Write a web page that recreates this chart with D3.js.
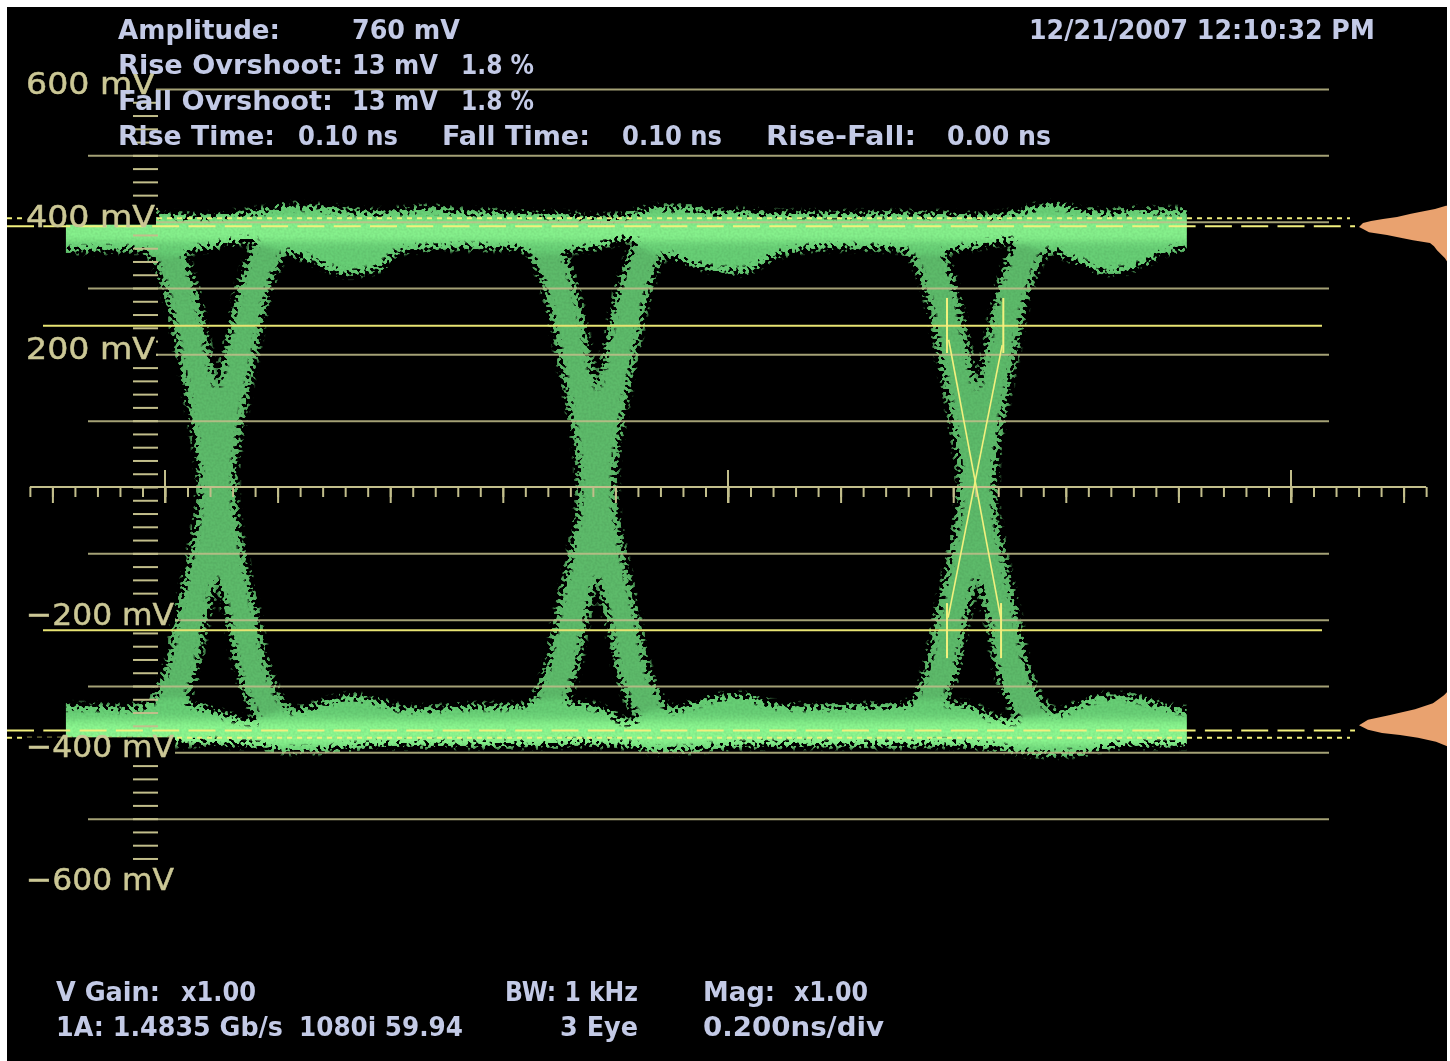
<!DOCTYPE html>
<html lang="en">
<head>
  <meta charset="UTF-8">
  <title>3 Eye display</title>
  <style>
    html, body { margin: 0; padding: 0; background: #fff; }
    svg { display: block; }
    .readout { font-family: "DejaVu Sans", sans-serif; font-weight: bold; font-size: 27px; fill: #c3cae6; }
    .mvlabel { font-family: "DejaVu Sans", sans-serif; font-size: 31px; fill: #cbc795; stroke: #cbc795; stroke-width: 0.5px; }
  </style>
</head>
<body>
  <svg id="scope" width="1450" height="1061"></svg>

  <script src="https://d3js.org/d3.v7.min.js"></script>
  <script>
    // trace envelopes, ns and mV
    const railTimes = [-0.215, -0.125, -0.075, -0.025, 0.025, 0.075, 0.125, 0.175, 0.225, 0.275,
      0.325, 0.375, 0.425, 0.475, 0.525, 0.575, 0.625, 0.675, 0.725, 0.775,
      0.825, 0.875, 0.925, 0.975, 1.025, 1.075, 1.125, 1.175, 1.225, 1.275,
      1.325, 1.375, 1.425, 1.475, 1.525, 1.575, 1.625, 1.675, 1.725, 1.775, 1.855];
    const topRailUpper = [409, 412, 412, 412, 410, 409, 413, 418, 425, 422, 418, 415, 418, 421, 416, 415, 413, 412, 410, 407,
      412, 422, 422, 415, 416, 413, 413, 413, 412, 413, 413, 412, 410, 410, 418, 427, 418, 415, 418, 418, 418];
    const topRailLower = [354, 356, 357, 357, 354, 360, 369, 372, 353, 335, 320, 327, 357, 359, 360, 360, 359, 357, 357, 363,
      375, 357, 339, 327, 323, 345, 357, 360, 360, 359, 357, 356, 360, 368, 372, 357, 338, 323, 330, 353, 363];
    const bottomRailUpper = [-329, -330, -332, -327, -324, -333, -348, -354, -339, -327, -315, -321, -333, -333, -330, -329, -329, -327, -324, -333,
      -354, -342, -330, -317, -314, -326, -330, -330, -329, -329, -329, -326, -327, -348, -353, -345, -326, -314, -317, -330, -338];
    const bottomRailLower = [-386, -386, -386, -386, -384, -384, -387, -392, -399, -398, -393, -390, -389, -389, -389, -389, -389, -389, -386, -387,
      -390, -399, -398, -393, -390, -389, -389, -389, -389, -389, -389, -387, -389, -393, -401, -404, -402, -392, -389, -389, -389];

    // one transition: mV against time from the crossing
    const crossings = [0.0924, 0.7673, 1.4423];
    const strandMv = [384, 357, 342, 300, 200, 100, 0, -100, -200, -300, -340, -365];
    const strandDt = [-0.125, -0.092, -0.083, -0.066, -0.041, -0.018, 0, 0.02, 0.046, 0.073, 0.098, 0.13];
    const waistMv = [60, -60];
    const traceStart = -0.176;
    const traceEnd = 1.815;
    const topCoreBand = [396, 378];
    const bottomCoreBand = [-358, -384];

    // graticule
    const gridMv = [600, 500, 400, 300, 200, 100, -100, -200, -300, -400, -500];
    const scaleLabelsMv = [600, 400, 200, -200, -400, -600];

    // measurement cursors
    const dashedMv = [393, -367];
    const dottedMv = [405, -378];
    const solidMv = [243, -216];
    const cursorBars = [
      { t: 1.389, from: 285, to: 202 }, { t: 1.489, from: 285, to: 202 },
      { t: 1.389, from: -175, to: -258 }, { t: 1.485, from: -175, to: -258 }
    ];
    const cursorSlants = [
      { t0: 1.392, v0: 222, t1: 1.485, v1: -200 },
      { t0: 1.487, v0: 214, t1: 1.391, v1: -197 }
    ];

    // histograms at the right edge, mV and counts
    const histTopMv = [424, 419, 415, 412, 407, 404, 401, 398, 392, 389, 384, 380, 375, 372, 368, 363, 357, 351, 345, 335, 317];
    const histTopCount = [87, 76, 62, 52, 38, 24, 12, 4, 0, 4, 10, 28, 44, 54, 71, 75, 78, 82, 86, 90, 90];
    const histBottomMv = [-273, -306, -314, -326, -335, -344, -351, -359, -366, -371, -374, -378, -384, -392];
    const histBottomCount = [90, 90, 85, 74, 56, 30, 9, 0, 9, 23, 41, 59, 77, 90];

    const W = 1450, H = 1061;
    const svg = d3.select("#scope");

    const x = d3.scaleLinear().domain([0, 1]).range([165, 728]);
    const y = d3.scaleLinear().domain([-600, 600]).range([885, 89]);
    const histX = d3.scaleLinear().domain([0, 90]).range([1359, 1449]);

    const defs = svg.append("defs");
    defs.append("clipPath").attr("id", "frame").append("rect")
      .attr("x", 7).attr("y", 7).attr("width", 1440).attr("height", H - 7);
    defs.append("clipPath").attr("id", "traceClip").append("rect")
      .attr("x", x(traceStart)).attr("y", 0).attr("width", x(traceEnd) - x(traceStart)).attr("height", H);

    // speckled edge: blurred alpha pushed through noise, then thresholded
    const speckle = defs.append("filter").attr("id", "speckle")
      .attr("filterUnits", "userSpaceOnUse").attr("x", 0).attr("y", 0).attr("width", W).attr("height", H)
      .attr("color-interpolation-filters", "sRGB");
    speckle.append("feGaussianBlur").attr("in", "SourceGraphic").attr("stdDeviation", 4.6).attr("result", "soft");
    speckle.append("feTurbulence").attr("type", "fractalNoise").attr("baseFrequency", 0.28)
      .attr("numOctaves", 1).attr("seed", 7).attr("result", "noise");
    speckle.append("feColorMatrix").attr("in", "noise").attr("type", "matrix")
      .attr("values", "0 0 0 0 0  0 0 0 0 0  0 0 0 0 0  3.8 0 0 0 -1.4").attr("result", "noiseAlpha");
    speckle.append("feComposite").attr("in", "soft").attr("in2", "noiseAlpha").attr("operator", "arithmetic")
      .attr("k1", 0).attr("k2", 1).attr("k3", 0.75).attr("k4", -0.38).attr("result", "mixed");
    const thresh = speckle.append("feComponentTransfer").attr("in", "mixed").attr("result", "hard");
    thresh.append("feFuncA").attr("type", "linear").attr("slope", 7).attr("intercept", -3.1);
    speckle.append("feGaussianBlur").attr("in", "SourceGraphic").attr("stdDeviation", 2.5).attr("result", "fill");
    speckle.append("feMorphology").attr("in", "fill").attr("operator", "dilate").attr("radius", 4).attr("result", "fat");
    speckle.append("feComposite").attr("in", "fat").attr("in2", "hard").attr("operator", "in").attr("result", "cut");
    speckle.append("feTurbulence").attr("type", "fractalNoise").attr("baseFrequency", 0.45)
      .attr("numOctaves", 1).attr("seed", 3).attr("result", "grain");
    speckle.append("feColorMatrix").attr("in", "grain").attr("type", "matrix")
      .attr("values", "0 0 0 0 0  0 0 0 0 0  0 0 0 0 0  0.9 0 0 0 -0.3").attr("result", "grainAlpha");
    speckle.append("feComposite").attr("in", "grainAlpha").attr("in2", "cut").attr("operator", "in").attr("result", "dark");
    const darkFade = speckle.append("feComponentTransfer").attr("in", "dark").attr("result", "darkSoft");
    darkFade.append("feFuncA").attr("type", "linear").attr("slope", 0.18);
    const mg = speckle.append("feMerge");
    mg.append("feMergeNode").attr("in", "cut");
    mg.append("feMergeNode").attr("in", "darkSoft");

    const softGlow = defs.append("filter").attr("id", "glow")
      .attr("x", "-5%").attr("y", "-100%").attr("width", "110%").attr("height", "300%");
    softGlow.append("feGaussianBlur").attr("stdDeviation", 4);

    const textSoft = defs.append("filter").attr("id", "textSoft");
    textSoft.append("feGaussianBlur").attr("stdDeviation", 0.45);

    const scope = svg.append("g").attr("clip-path", "url(#frame)");
    scope.append("rect").attr("x", 7).attr("y", 7).attr("width", W).attr("height", H).attr("fill", "#000");

    const axisColor = "#c2be8b";
    function styleAxis(g) {
      g.select(".domain").remove();
      g.selectAll(".tick text").remove();
      g.selectAll(".tick line").attr("stroke", axisColor).attr("stroke-width", 2);
    }

    // the trace
    const trace = scope.append("g").attr("clip-path", "url(#traceClip)");
    const band = trace.append("g").attr("filter", "url(#speckle)");

    const railArea = (upper, lower) => d3.area()
      .x((d, i) => x(railTimes[i]))
      .y0((d, i) => y(lower[i]))
      .y1((d, i) => y(upper[i]))
      .curve(d3.curveMonotoneX)(railTimes);

    const strandLine = d3.line().curve(d3.curveMonotoneY);

    crossings.forEach(c => {
      [1, -1].forEach(dir => {
        band.append("path")
          .attr("d", strandLine(strandMv.map((v, i) => [x(c + dir * strandDt[i]), y(v)])))
          .attr("fill", "none")
          .attr("stroke", "#5dbb6a")
          .attr("stroke-width", 31);
      });
      band.append("line")
        .attr("x1", x(c)).attr("x2", x(c))
        .attr("y1", y(waistMv[0])).attr("y2", y(waistMv[1]))
        .attr("stroke", "#5dbb6a")
        .attr("stroke-width", 38);
    });
    [[topRailUpper, topRailLower], [bottomRailUpper, bottomRailLower]].forEach(([u, l]) => {
      band.append("path").attr("d", railArea(u, l)).attr("fill", "#67cf75");
    });

    // brighter core where the rails overlap
    [topCoreBand, bottomCoreBand].forEach(b => {
      band.append("rect")
        .attr("x", x(railTimes[0]))
        .attr("width", x(railTimes[railTimes.length - 1]) - x(railTimes[0]))
        .attr("y", y(b[0]))
        .attr("height", y(b[1]) - y(b[0]))
        .attr("fill", "#8ffb93")
        .attr("filter", "url(#glow)");
    });

    // horizontal graticule
    scope.append("g")
      .attr("transform", "translate(88,0)")
      .call(d3.axisRight(y).tickValues(gridMv).tickSize(1241))
      .call(styleAxis)
      .attr("opacity", 0.85);

    // left scale ticks, every 20 mV
    scope.append("g")
      .attr("transform", "translate(133,0)")
      .call(d3.axisRight(y).tickValues(d3.range(-560, 600, 20)).tickSize(25))
      .call(styleAxis);

    // time axis: 0.04 ns minor, 0.2 ns/div, 1 ns major
    const axisY = y(0);
    const tVals = d3.range(-6, 57).map(i => i * 0.04);
    const timeAxis = scope.append("g").attr("transform", `translate(0,${axisY})`);
    timeAxis.call(d3.axisBottom(x).tickValues(tVals).tickSize(10).tickSizeOuter(0))
      .call(g => g.selectAll(".tick text").remove());
    timeAxis.select(".domain").attr("stroke", axisColor).attr("stroke-width", 2)
      .attr("d", `M${x(-0.24)},0H${x(2.24)}`);
    timeAxis.selectAll(".tick line").attr("stroke", axisColor).attr("stroke-width", 2);
    scope.append("g").attr("transform", `translate(0,${axisY})`)
      .call(d3.axisBottom(x).tickValues(d3.range(-1, 12).map(i => i * 0.2)).tickSize(16))
      .call(styleAxis);
    scope.append("g").selectAll("line").data([0, 1, 2]).join("line")
      .attr("x1", d => x(d)).attr("x2", d => x(d))
      .attr("y1", axisY - 17).attr("y2", axisY + 16)
      .attr("stroke", axisColor).attr("stroke-width", 2);

    // cursors
    const cursorColor = "#f2f07e";
    const cursorRight = { dashed: 1355, dotted: 1350, solid: 1322 };
    scope.append("g").selectAll("line").data(solidMv).join("line")
      .attr("x1", 43).attr("x2", cursorRight.solid)
      .attr("y1", d => y(d)).attr("y2", d => y(d))
      .attr("stroke", "#e8e473").attr("stroke-width", 2);
    scope.append("g").selectAll("line").data(dashedMv).join("line")
      .attr("x1", 7).attr("x2", cursorRight.dashed)
      .attr("y1", d => y(d)).attr("y2", d => y(d))
      .attr("stroke", cursorColor).attr("stroke-width", 2)
      .attr("stroke-dasharray", "27 9.3");
    scope.append("g").selectAll("line").data(dottedMv).join("line")
      .attr("x1", 7).attr("x2", cursorRight.dotted)
      .attr("y1", d => y(d)).attr("y2", d => y(d))
      .attr("stroke", cursorColor).attr("stroke-width", 2)
      .attr("stroke-dasharray", "5 5");
    scope.append("g").selectAll("line").data(cursorBars).join("line")
      .attr("x1", d => x(d.t)).attr("x2", d => x(d.t))
      .attr("y1", d => y(d.from)).attr("y2", d => y(d.to))
      .attr("stroke", cursorColor).attr("stroke-width", 2);
    scope.append("g").selectAll("line").data(cursorSlants).join("line")
      .attr("x1", d => x(d.t0)).attr("x2", d => x(d.t1))
      .attr("y1", d => y(d.v0)).attr("y2", d => y(d.v1))
      .attr("stroke", cursorColor).attr("stroke-width", 1.6);

    // histograms
    const histArea = (mv, count) => d3.area()
      .y((d, i) => y(mv[i]))
      .x0(histX(90))
      .x1((d, i) => histX(count[i]))(mv);
    scope.append("path").attr("d", histArea(histTopMv, histTopCount)).attr("fill", "#e9a26f");
    scope.append("path").attr("d", histArea(histBottomMv, histBottomCount)).attr("fill", "#e9a26f");

    // scale labels carry a black box that hides whatever is behind them
    const labelText = v => (v < 0 ? "\u2212" : "") + Math.abs(v) + " mV";
    const labels = scope.append("g").selectAll("g").data(scaleLabelsMv).join("g")
      .attr("transform", d => `translate(26,${y(d) + 5})`);
    labels.append("rect")
      .attr("x", 0).attr("y", -20)
      .attr("width", d => d < 0 ? 149 : 130).attr("height", 18)
      .attr("fill", "#000");
    labels.append("text")
      .attr("class", "mvlabel")
      .attr("filter", "url(#textSoft)")
      .attr("textLength", d => d < 0 ? 148 : 129)
      .attr("lengthAdjust", "spacingAndGlyphs")
      .text(labelText);

    // readouts
    function readout(str, left, base, width) {
      scope.append("text")
        .attr("class", "readout")
        .attr("filter", "url(#textSoft)")
        .attr("x", left).attr("y", base)
        .attr("textLength", width)
        .attr("lengthAdjust", "spacingAndGlyphs")
        .text(str);
    }
    readout("Amplitude:", 118, 39, 162);
    readout("760 mV", 352, 39, 108);
    readout("12/21/2007 12:10:32 PM", 1029, 39, 346);
    readout("Rise Ovrshoot:", 118, 74, 225);
    readout("13 mV", 352, 74, 86);
    readout("1.8 %", 461, 74, 73);
    readout("Fall Ovrshoot:", 118, 110, 215);
    readout("13 mV", 352, 110, 86);
    readout("1.8 %", 461, 110, 73);
    readout("Rise Time:", 118, 145, 157);
    readout("0.10 ns", 298, 145, 100);
    readout("Fall Time:", 442, 145, 148);
    readout("0.10 ns", 622, 145, 100);
    readout("Rise-Fall:", 766, 145, 150);
    readout("0.00 ns", 947, 145, 104);
    readout("V Gain:", 56, 1001, 104);
    readout("x1.00", 181, 1001, 75);
    readout("BW: 1 kHz", 505, 1001, 133);
    readout("Mag:", 703, 1001, 72);
    readout("x1.00", 794, 1001, 74);
    readout("1A: 1.4835 Gb/s", 56, 1036, 227);
    readout("1080i 59.94", 299, 1036, 164);
    readout("3 Eye", 560, 1036, 78);
    readout("0.200ns/div", 703, 1036, 181);
  </script>
</body>
</html>
